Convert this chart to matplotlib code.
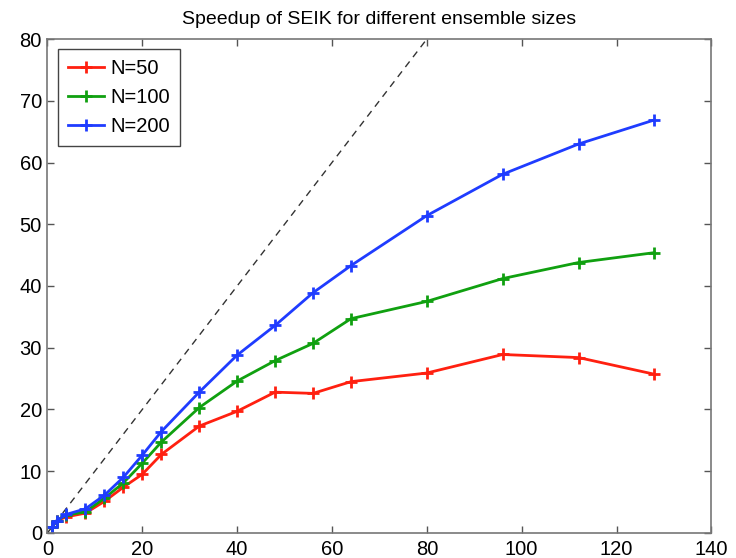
import numpy as np
import matplotlib.pyplot as plt

plt.rcParams['font.family'] = ['Liberation Sans', 'DejaVu Sans']

# number of processors
procs = [1, 2, 4, 8, 12, 16, 20, 24, 32, 40, 48, 56, 64, 80, 96, 112, 128]

# speedup per ensemble size
speedup_50 = [1.0, 2.0, 2.6, 3.2, 5.1, 7.4, 9.5, 12.7, 17.3, 19.7, 22.8, 22.6, 24.5, 25.9, 28.9, 28.4, 25.7]
speedup_100 = [1.0, 2.0, 2.9, 3.4, 5.6, 8.1, 11.3, 14.7, 20.3, 24.6, 27.9, 30.7, 34.7, 37.5, 41.2, 43.8, 45.4]
speedup_200 = [1.0, 2.0, 3.0, 3.9, 6.1, 9.0, 12.6, 16.4, 22.8, 28.8, 33.6, 38.9, 43.3, 51.4, 58.1, 63.0, 66.9]

labels = ['N=50', 'N=100', 'N=200']
colors = ['#ff2010', '#10a010', '#1f3cff']

fig = plt.figure(figsize=(7.36, 5.58), dpi=100)
ax = fig.add_axes([0.0645, 0.045, 0.902, 0.885])

# ideal speedup
ideal = np.array([0, 140])
ax.plot(ideal, ideal, '--', color='#333333', lw=1.0, dashes=(5, 4))

for ys, lab, c in zip([speedup_50, speedup_100, speedup_200], labels, colors):
    ax.plot(procs, ys, '-+', color=c, lw=2.0, ms=8, mew=2.0, label=lab)

ax.set_xlim(0, 140)
ax.set_ylim(0, 80)
ax.set_xticks(range(0, 141, 20))
ax.set_yticks(range(0, 81, 10))
ax.tick_params(direction='in', top=True, right=True, length=5, width=1,
               color='#555555', labelsize=14.5)
ax.tick_params(axis='x', pad=5)
ax.tick_params(axis='y', pad=4)
for s in ax.spines.values():
    s.set_color('#777777')
    s.set_linewidth(1.2)

ax.set_title('Speedup of SEIK for different ensemble sizes', fontsize=14, pad=11)

leg = ax.legend(loc='upper left', fontsize=14.5, fancybox=False, framealpha=1,
                edgecolor='#444444', handlelength=1.8, borderpad=0.5,
                labelspacing=0.5, handletextpad=0.3, borderaxespad=0.5)
leg.get_frame().set_linewidth(1.0)

fig.savefig('out.png', dpi=100)
